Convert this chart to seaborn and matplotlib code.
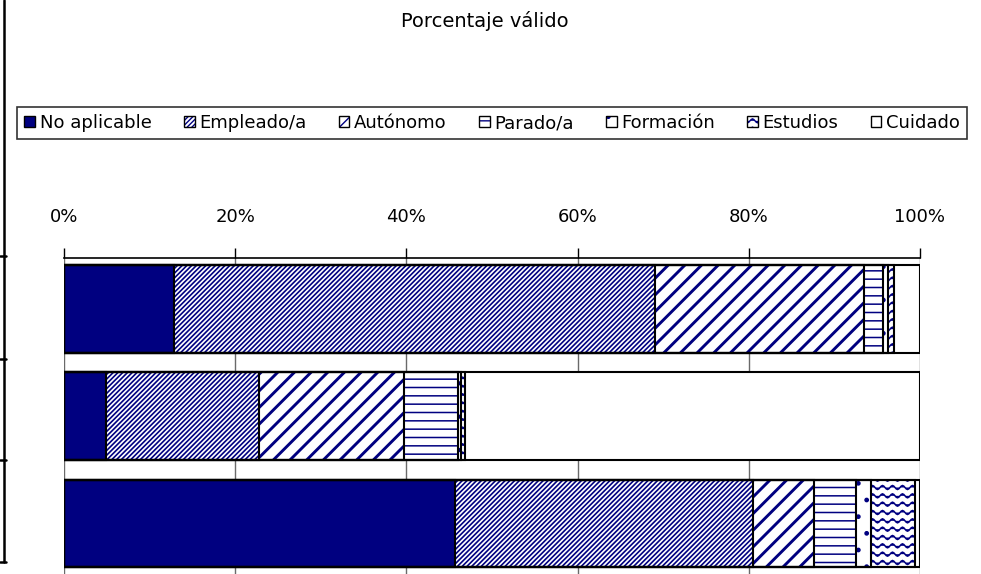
import matplotlib
matplotlib.use("Agg")
import numpy as np
import pandas as pd
import seaborn as sns
import matplotlib.pyplot as plt
from matplotlib import hatch as mhatch
from matplotlib.path import Path
from matplotlib.patches import Patch
from matplotlib.lines import Line2D
from matplotlib.legend_handler import HandlerTuple

# ---- data (valid percentages per group) ----
groups = ["Grupo 1", "Grupo 2", "Grupo 3"]
series = ["No aplicable", "Empleado/a", "Autónomo", "Parado/a",
          "Formación", "Estudios", "Cuidado"]
no_aplicable = [12.9, 4.9, 45.7]
empleado = [56.2, 17.9, 34.8]
autonomo = [24.3, 16.9, 7.1]
parado = [2.3, 6.3, 4.9]
formacion = [0.6, 0.4, 1.8]
estudios = [0.7, 0.5, 5.1]
cuidado = [3.0, 53.1, 0.6]
tick_values = [0, 20, 40, 60, 80, 100]
tick_labels = ["0%", "20%", "40%", "60%", "80%", "100%"]

NAVY = "#000080"


# wavy hatch texture, registered under the '*' hatch character
class WavyHatch(mhatch.HatchPatternBase):
    def __init__(self, hatch, density):
        self.num_rows = int(hatch.count("*") * density * 2)
        self.samples = 81
        self.num_vertices = self.num_rows * self.samples

    def set_vertices_and_codes(self, vertices, codes):
        xs = np.linspace(0.0, 1.0, self.samples)
        wave = 0.02 * np.sin(2 * np.pi * 10 * xs)
        for r in range(self.num_rows):
            s = slice(r * self.samples, (r + 1) * self.samples)
            vertices[s, 0] = xs
            vertices[s, 1] = (r + 0.5) / self.num_rows + wave
            codes[s] = Path.LINETO
            codes[r * self.samples] = Path.MOVETO


mhatch._hatch_types = [t for t in mhatch._hatch_types
                       if t is not mhatch.Stars] + [WavyHatch]

# fill colour, hatch and hatch line width for each series
faces = [NAVY, "white", "white", "white", "white", "white", "white"]
hatches = ["", "///////", "//", "--", ".", "*", ""]
hatch_lw = [1.0, 1.2, 2.1, 1.1, 1.0, 1.1, 1.0]

sns.set_style("white")
plt.rcParams["font.family"] = ["DejaVu Sans"]
plt.rcParams["font.size"] = 13
plt.rcParams["text.color"] = "black"
plt.rcParams["xtick.color"] = "black"
plt.rcParams["xtick.labelcolor"] = "black"

values = np.array([no_aplicable, empleado, autonomo, parado,
                   formacion, estudios, cuidado]).T
cum = np.cumsum(values, axis=1)
df = pd.DataFrame(cum, columns=series)
df["grupo"] = groups

fig = plt.figure(figsize=(9.81, 5.74), dpi=100)
ax = fig.add_axes([64 / 981, 0.0, (920 - 64) / 981, 1 - 258 / 574])

BAR_W = 0.82

# hatched fills, drawn from the longest cumulative bar to the shortest
for i in range(len(series) - 1, -1, -1):
    sns.barplot(data=df, x=series[i], y="grupo", orient="h", ax=ax,
                color=faces[i], saturation=1, width=BAR_W,
                edgecolor=NAVY, linewidth=0, hatch=hatches[i])
    for p in ax.containers[-1]:
        p.set_facecolor(faces[i])
        if hasattr(p, "set_hatch_linewidth"):
            p.set_hatch_linewidth(hatch_lw[i])

# black outlines of every segment
for i in range(len(series)):
    sns.barplot(data=df, x=series[i], y="grupo", orient="h", ax=ax,
                fill=False, color="black", saturation=1, width=BAR_W,
                linewidth=1.5)
    for p in ax.containers[-1]:
        p.set_edgecolor("black")
        p.set_facecolor("none")

ax.set_xlim(0, 100)
ax.set_ylim(2.471, -0.4755)
ax.set_xlabel("")
ax.set_ylabel("")
ax.set_yticks([])
ax.xaxis.tick_top()
ax.set_xticks(tick_values)
ax.set_xticklabels(tick_labels)
ax.tick_params(axis="x", direction="out", length=7, width=1,
               color="black", labelcolor="black", pad=16, labelsize=13)
ax.xaxis.grid(True, color="#6a6a6a", linewidth=1)
ax.yaxis.grid(False)
ax.set_axisbelow(True)
for side in ["left", "right", "bottom"]:
    ax.spines[side].set_visible(False)
ax.spines["top"].set_color("black")
ax.spines["top"].set_linewidth(1.2)

# title
fig.text(485 / 981, 1 - 21 / 574, "Porcentaje válido", ha="center",
         va="center", fontsize=14, color="black")

# legend
handles = []
for i in range(len(series)):
    fill = Patch(facecolor=faces[i], edgecolor=NAVY, hatch=hatches[i],
                 linewidth=0)
    edge = Patch(facecolor="none", edgecolor="black", linewidth=1)
    handles.append((fill, edge))
leg = fig.legend(handles, series, loc="center", ncol=7, mode="expand",
                 bbox_to_anchor=(17 / 981, 1 - 142 / 574, 950 / 981, 38 / 574),
                 borderaxespad=0, frameon=True, fancybox=False,
                 handlelength=0.6, handleheight=0.6, handletextpad=0.25,
                 columnspacing=0.6, borderpad=0.4, fontsize=13,
                 handler_map={tuple: HandlerTuple(ndivide=1)})
leg.get_frame().set_edgecolor("black")
leg.get_frame().set_linewidth(1.2)
for t in leg.get_texts():
    t.set_color("black")

# left border line of the table with its row ticks
x_line = 3.7 / 981
fig.add_artist(Line2D([x_line, x_line], [1.0, 1 - 562 / 574],
                      transform=fig.transFigure, color="black", lw=1.8))
for yy in [256, 359, 460, 562]:
    fig.add_artist(Line2D([0, 5.5 / 981], [1 - yy / 574] * 2,
                          transform=fig.transFigure, color="black", lw=1.8))

fig.savefig("out.png", dpi=100)
